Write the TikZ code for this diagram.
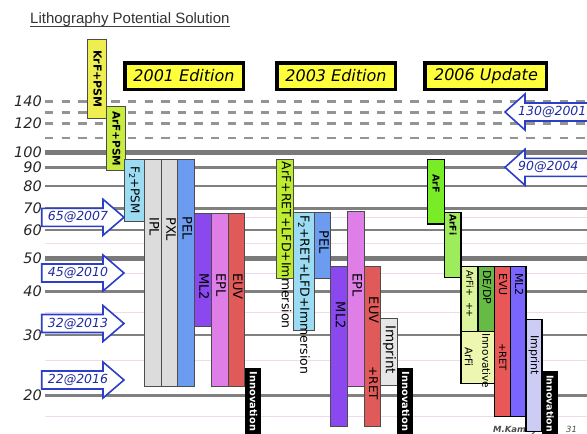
\documentclass[tikz,border=0pt]{standalone}
\usepackage{fontspec}
\setmainfont{DejaVu Sans}
\newfontfamily\headfont{Liberation Sans}

% fills of the solution bars
\definecolor{cKrF}{HTML}{EEEE50}
\definecolor{cArFpsm}{HTML}{C8EC40}
\definecolor{cFtwo}{HTML}{9CDCF2}
\definecolor{cGrey}{HTML}{DCDCDC}
\definecolor{cPEL}{HTML}{6C9CF0}
\definecolor{cML}{HTML}{8A48EE}
\definecolor{cEPL}{HTML}{E07EE8}
\definecolor{cEUV}{HTML}{E05A5A}
\definecolor{cArFret}{HTML}{BDEC30}
\definecolor{cImp}{HTML}{E6E6E6}
\definecolor{cArF}{HTML}{78EC26}
\definecolor{cArFi}{HTML}{9CEC5C}
\definecolor{cArFip}{HTML}{DCF49C}
\definecolor{cDEDP}{HTML}{66BB44}
\definecolor{cInnArF}{HTML}{EEF7B0}
\definecolor{cEVU}{HTML}{E85858}
\definecolor{cMLnew}{HTML}{7A66FF}
\definecolor{cImpnew}{HTML}{CCCCF5}
\definecolor{edyellow}{HTML}{FFFF3C}
\definecolor{arrowblue}{HTML}{2B3FC8}
\definecolor{arrowtext}{HTML}{1E2A9E}

\begin{document}
\begin{tikzpicture}[x=1pt,y=-1pt,
  gridthin/.style={draw=black!50, line width=2.6pt},
  gridthick/.style={draw=black!52, line width=5pt},
  griddash/.style={draw=black!42, line width=2.6pt, dash pattern=on 8.3pt off 8.3pt},
  gridfaint/.style={draw=violet!14, line width=0.8pt},
  axislbl/.style={anchor=east, inner sep=0pt, font=\fontsize{14.5}{14.5}\selectfont\itshape, text=black!85},
  edition/.style={draw=black, line width=3.5pt, fill=edyellow},
  editionlbl/.style={inner sep=0pt, font=\fontsize{16}{16}\selectfont\itshape},
  nodearrow/.style={draw=arrowblue, line width=1.6pt, fill=white, line join=miter},
  arrowlbl/.style={inner sep=0pt, text=arrowtext, font=\fontsize{12.5}{12.5}\selectfont\itshape},
  solbar/.style={draw=black!70, line width=0.8pt},
  solbarnew/.style={draw=black, line width=1.4pt},
  vlbl/.style={rotate=-90, anchor=west, inner sep=0pt, text height=0.72em, text depth=0.1em, text=black},
  ]
\useasboundingbox (0,0) rectangle (587,434);
\clip (0,0) rectangle (587,434);
\fill[white] (0,0) rectangle (587,434);

% title
\node[anchor=base west, inner sep=0pt, font=\headfont\fontsize{15}{15}\selectfont, text=black!80]
  (title) at (30,23) {Lithography Potential Solution};
\draw[black!75, line width=1pt] (title.south west) -- (title.south east);

% grid of half-pitch values (log scale)
\foreach \yy in {217.3,243.5,273,312,360,416}
  \draw[gridfaint] (45,\yy) -- (590,\yy);
\foreach \yy in {101.7,112.5,123.5,138}
  \draw[griddash] (45,\yy) -- (590,\yy);
\foreach \yy in {152.3,258.5}
  \draw[gridthick] (45,\yy) -- (590,\yy);
\foreach \yy in {167.3,186,208.5,230,291.7,335,395.7}
  \draw[gridthin] (45,\yy) -- (590,\yy);

% axis values
\foreach \yy/\vv in {101.7/140,123.5/120,152.3/100,167.3/90,186/80,208.5/70,230/60,258.5/50,291.7/40,335/30,395.7/20}
  \node[axislbl] (ax\vv) at (42,\yy) {\vv};

% footer
\node[anchor=base west, inner sep=0pt, font=\fontsize{8.5}{8.5}\selectfont\bfseries\itshape, text=black!70]
  (author) at (493,432) {M.Kameyama};
\node[anchor=base west, inner sep=0pt, font=\fontsize{8.5}{8.5}\selectfont\itshape, text=black!70]
  (page) at (566,432) {31};

% node/year arrows on the left
\foreach \yy/\txt/\nm in {217.3/65@2007/n65, 273/45@2010/n45, 323.5/32@2013/n32, 380/22@2016/n22}{
  \draw[nodearrow] (41.7,\yy-9) -- (103,\yy-9) -- (103,\yy-18) -- (124,\yy)
     -- (103,\yy+18) -- (103,\yy+9) -- (41.7,\yy+9) -- cycle;
  \node[arrowlbl] (\nm) at (78,\yy) {\txt};
}
% node/year arrows on the right
\foreach \yy/\txt/\nm in {112/130@2001/n130, 167.3/90@2004/n90}{
  \draw[nodearrow] (595,\yy-9) -- (525,\yy-9) -- (525,\yy-18) -- (505,\yy)
     -- (525,\yy+18) -- (525,\yy+9) -- (595,\yy+9) -- cycle;
  \node[arrowlbl, anchor=west] (\nm) at (518,\yy) {\txt};
}

% edition headers
\draw[edition] (124.75,62.75) rectangle (243.25,89.25);
\node[editionlbl] (ed2001) at (184,76) {2001 Edition};
\draw[edition] (276.75,62.75) rectangle (395.25,89.25);
\node[editionlbl] (ed2003) at (336,76) {2003 Edition};
\draw[edition] (425.05,62.75) rectangle (546.55,89.25);
\node[editionlbl] (ed2006) at (486,76) {2006 Update};

% ---- 2001 edition ----
\draw[solbar, fill=cKrF]    (87,39)      rectangle (106.5,118);
\draw[solbar, fill=cArFpsm] (106.5,106.7) rectangle (125,170.7);
\draw[solbar, fill=cFtwo]   (124,159.3)  rectangle (144,221.7);
\draw[solbar, fill=cGrey]   (144,159.3)  rectangle (161.5,386.7);
\draw[solbar, fill=cGrey]   (161.5,159.3) rectangle (177.5,386.7);
\draw[solbar, fill=cPEL]    (177.5,159.3) rectangle (194,386.7);
\draw[solbar, fill=cML]     (194,213.3)  rectangle (211,326.7);
\draw[solbar, fill=cEPL]    (211,213.3)  rectangle (228,386.3);
\draw[solbar, fill=cEUV]    (228,213.3)  rectangle (244.5,386.3);
\fill[black]                (245,368.3)  rectangle (261,440);

\node[vlbl, font=\fontsize{11}{11}\selectfont\bfseries] (krf) at (96.7,50) {KrF+PSM};
\node[vlbl, font=\fontsize{10.5}{10.5}\selectfont\bfseries] (arfpsm) at (115.7,111) {ArF+PSM};
\node[vlbl, font=\fontsize{12}{12}\selectfont] (f2psm) at (134,166) {F\textsubscript{2}+PSM};
\node[vlbl, font=\fontsize{13}{13}\selectfont] (ipl) at (152.7,217) {IPL};
\node[vlbl, font=\fontsize{13}{13}\selectfont] (pxl) at (169.5,217) {PXL};
\node[vlbl, font=\fontsize{13}{13}\selectfont] (pelA) at (185.7,216) {PEL};
\node[vlbl, font=\fontsize{13}{13}\selectfont] (mlA) at (202.5,273) {ML2};
\node[vlbl, font=\fontsize{13}{13}\selectfont] (eplA) at (219.5,273) {EPL};
\node[vlbl, font=\fontsize{13}{13}\selectfont] (euvA) at (236.2,273) {EUV};
\node[vlbl, font=\fontsize{9.8}{9.8}\selectfont\bfseries, text=white] (innA) at (253,371.7) {Innovation};

% ---- 2003 edition ----
\draw[solbar, fill=cArFret] (276.7,159.3) rectangle (293.3,278.3);
\draw[solbar, fill=cFtwo]   (293.3,212.7) rectangle (314.3,330);
\draw[solbar, fill=cPEL]    (314.3,212.7) rectangle (330.7,278.3);
\draw[solbar, fill=cML]     (330.7,266)   rectangle (347.3,426);
\draw[solbar, fill=cEPL]    (347.3,211.7) rectangle (364,386.7);
\draw[solbar, fill=cEUV]    (364,266.7)   rectangle (380.7,426);
\draw[solbar, fill=cImp]    (380.7,318.3) rectangle (397,385);
\fill[black]                (397,368.3)   rectangle (413.3,440);

\node[vlbl, font=\fontsize{12.5}{12.5}\selectfont] (arfret) at (285,161.7) {ArF+RET+LFD+Immersion};
\node[vlbl, font=\fontsize{12.5}{12.5}\selectfont] (f2ret) at (303.5,215) {F\textsubscript{2}+RET+LFD+Immersion};
\node[vlbl, font=\fontsize{13}{13}\selectfont] (pelB) at (322.5,230) {PEL};
\node[vlbl, font=\fontsize{13}{13}\selectfont] (mlB) at (339,301.7) {ML2};
\node[vlbl, font=\fontsize{13}{13}\selectfont] (eplB) at (355.7,273.3) {EPL};
\node[vlbl, font=\fontsize{13}{13}\selectfont] (euvB) at (372.3,296.7) {EUV};
\node[vlbl, font=\fontsize{12}{12}\selectfont] (retB) at (372.3,366.7) {+RET};
\node[vlbl, font=\fontsize{13.5}{13.5}\selectfont] (impB) at (389,325) {Imprint};
\node[vlbl, font=\fontsize{9.8}{9.8}\selectfont\bfseries, text=white] (innB) at (405.2,371.7) {Innovation};

% ---- 2006 update ----
\draw[solbarnew, fill=cArF]    (427.3,159.3) rectangle (444.3,224);
\draw[solbarnew, fill=cArFi]   (444.3,212.7) rectangle (461,277.3);
\draw[solbarnew, fill=cArFip]  (461,266.7)   rectangle (478,331.7);
\draw[solbarnew, fill=cDEDP]   (478,266.7)   rectangle (494.3,331.7);
\draw[solbarnew, fill=cInnArF] (461,331.7)   rectangle (494.3,383.3);
\draw[solbarnew, fill=cEVU]    (494.3,266.7) rectangle (510.3,416.7);
\draw[solbarnew, fill=cMLnew]  (510.3,266.7) rectangle (526,416.7);
\draw[solbarnew, fill=cImpnew] (526,319.3)   rectangle (542,431.7);
\fill[black]                   (542,370.7)   rectangle (557.5,440);

\node[vlbl, font=\fontsize{9.5}{9.5}\selectfont\bfseries] (arfC) at (435.8,174) {ArF};
\node[vlbl, font=\fontsize{9.2}{9.2}\selectfont\bfseries] (arfiC) at (452.7,214) {ArFi};
\node[vlbl, font=\fontsize{9.5}{9.5}\selectfont] (arfipC) at (469.5,270) {ArFi+\ \ ++};
\node[vlbl, font=\fontsize{11}{11}\selectfont] (dedp) at (486.2,270) {DE/DP};
\node[vlbl, font=\fontsize{10.5}{10.5}\selectfont] (innov) at (485.5,333) {Innovative};
\node[vlbl, font=\fontsize{10.5}{10.5}\selectfont] (arfiD) at (468,347) {ArFi};
\node[vlbl, font=\fontsize{11}{11}\selectfont] (evu) at (502.3,273) {EVU};
\node[vlbl, font=\fontsize{10}{10}\selectfont] (retC) at (502.3,343) {+RET};
\node[vlbl, font=\fontsize{11}{11}\selectfont] (mlC) at (518.2,273) {ML2};
\node[vlbl, font=\fontsize{11}{11}\selectfont] (impC) at (534,335) {Imprint};
\node[vlbl, font=\fontsize{9.4}{9.4}\selectfont\bfseries, text=white] (innC) at (549.7,375) {Innovation};
\end{tikzpicture}
\end{document}
